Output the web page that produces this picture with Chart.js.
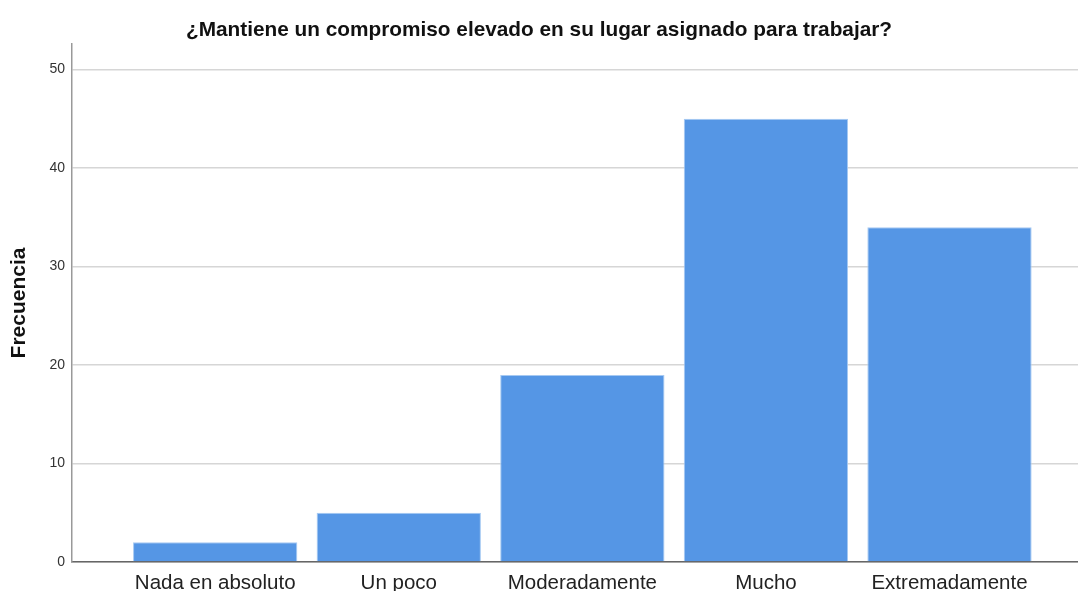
<!DOCTYPE html>
<html>
<head>
<meta charset="utf-8">
<script src="https://cdn.jsdelivr.net/npm/chart.js@4"></script>
<style>
  html, body { margin: 0; padding: 0; background: #fff; }
  #wrap { width: 1078px; height: 591px; position: relative; }
</style>
</head>
<body>
<div id="wrap"><canvas id="freqChart"></canvas></div>
<script>
// --- données --- //
const categorias = ['Nada en absoluto', 'Un poco', 'Moderadamente', 'Mucho', 'Extremadamente'];
const frecuencias = [2, 5, 19, 45, 34];
const ticksY = [0, 10, 20, 30, 40, 50];

const ctx = document.getElementById('freqChart');
new Chart(ctx, {
	type: 'bar',
	data: {
		datasets: [{
			data: frecuencias.map((v, i) => ({ x: i, y: v })),
			backgroundColor: '#5596e5',
			borderColor: '#a6c9f2',
			borderWidth: 1,
			categoryPercentage: 1,
			barPercentage: 0.895
		}]
	},
	options: {
		responsive: true,
		maintainAspectRatio: false,
		animation: false,
		layout: { padding: 0 },
		plugins: {
			legend: { display: false },
			tooltip: { enabled: false },
			title: {
				display: true,
				text: '¿Mantiene un compromiso elevado en su lugar asignado para trabajar?',
				color: '#111',
				font: { family: 'Liberation Sans, Arial', size: 20.8, weight: 'bold', lineHeight: 1.2 },
				padding: { top: 18, bottom: 1 }
			}
		},
		scales: {
			x: {
				type: 'linear',
				offset: false,
				min: -0.78,
				max: 4.70,
				grid: { display: false, drawTicks: false, offset: false },
				border: { display: true, color: '#666', width: 1.5 },
				ticks: {
					stepSize: 1,
					includeBounds: false,
					autoSkip: false,
					maxRotation: 0,
					padding: 9,
					color: '#222',
					font: { family: 'Liberation Sans, Arial', size: 20.5 },
					callback: v => categorias[v] ?? ''
				},
				afterFit: s => { s.height = 29; }
			},
			y: {
				min: 0,
				max: 52.6,
				grid: { color: '#d6d6d6', lineWidth: 1.5, drawTicks: false },
				border: { display: true, color: '#999', width: 1.5 },
				ticks: {
					stepSize: 10,
					includeBounds: false,
					padding: 7,
					color: '#333',
					font: { family: 'Liberation Sans, Arial', size: 14 },
					callback: v => ticksY.includes(v) ? v : ''
				},
				title: {
					display: true,
					text: 'Frecuencia',
					color: '#111',
					font: { family: 'Liberation Sans, Arial', size: 21, weight: 'bold', lineHeight: 1.2 },
					padding: { top: 7, bottom: 0 }
				},
				afterFit: s => { s.width = 72; }
			}
		}
	}
});
</script>
</body>
</html>
